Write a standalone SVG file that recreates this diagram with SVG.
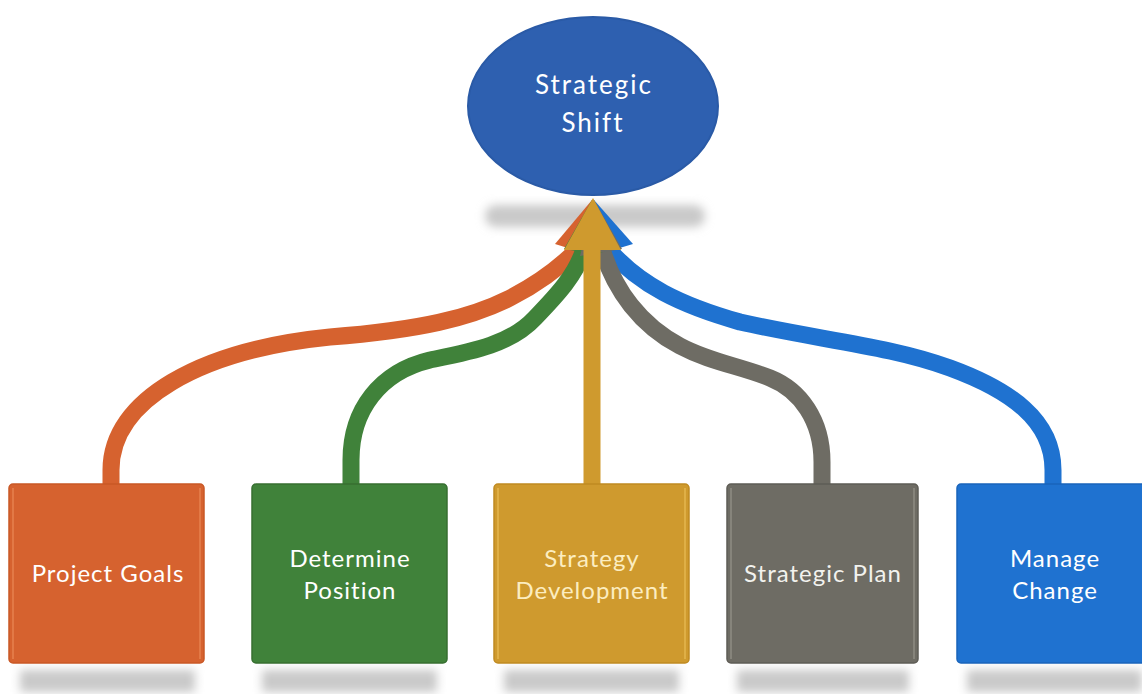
<svg xmlns="http://www.w3.org/2000/svg" width="1142" height="694" viewBox="0 0 1142 694">
  <defs>
    <filter id="soft" x="-20%" y="-100%" width="140%" height="300%">
      <feGaussianBlur stdDeviation="5"/>
    </filter>
    <style>
      .lbl { font-family: Lato, "Open Sans", "Liberation Sans", sans-serif; font-size: 24px; letter-spacing: 1px; text-anchor: middle; fill: #ffffff; }
      .big { font-size: 26px; letter-spacing: 2px; }
      .shadow { fill: #c9c9c9; filter: url(#soft); }
      .wire { fill: none; stroke-width: 17; stroke-linecap: butt; }
      .box { stroke-width: 1.5; }
      .edge { fill: none; stroke-width: 1.5; stroke-opacity: 0.55; }
    </style>
  </defs>

  <rect width="1142" height="694" fill="#ffffff"/>

  <!-- soft reflections under the shapes -->
  <g id="shadows">
    <rect class="shadow" x="485" y="205" width="220" height="22" rx="11"/>
    <rect class="shadow" x="20" y="670" width="175" height="22"/>
    <rect class="shadow" x="262" y="670" width="175" height="22"/>
    <rect class="shadow" x="504" y="670" width="175" height="22"/>
    <rect class="shadow" x="737" y="670" width="172" height="22"/>
    <rect class="shadow" x="967" y="670" width="175" height="22"/>
  </g>

  <!-- curved connectors converging on the top node -->
  <g id="connectors">
    <path class="wire" stroke="#D6622F" d="M111,484 L111,470 C111,400 200,350 330,337 C420,330 470,318 510,298 C545,280 565,262 577,250"/>
    <polygon fill="#D6622F" points="592,200 555,244 600,258"/>

    <path class="wire" stroke="#1F72D0" d="M1053,484 L1053,470 C1053,420 1010,390 950,368 C890,346 820,340 740,322 C680,305 640,285 610,251"/>
    <polygon fill="#1F72D0" points="594,200 633,244 586,258"/>

    <path class="wire" stroke="#40823A" d="M351,484 L351,460 C351,410 380,372 430,360 C470,352 510,345 535,318 C560,292 575,275 583,252"/>
    <polygon fill="#40823A" points="592,200 564,249 606,256"/>

    <path class="wire" stroke="#6E6C64" d="M822,484 L822,462 C822,420 800,390 770,378 C740,366 710,362 680,346 C640,325 615,290 603,252"/>
    <polygon fill="#6E6C64" points="594,200 622,249 580,256"/>

    <path class="wire" stroke="#CF9A2E" stroke-width="20" d="M592,484 L592,246"/>
    <polygon fill="#CF9A2E" points="593,198 564,250 621,250"/>
  </g>

  <!-- top node -->
  <g id="strategic-shift">
    <ellipse cx="593" cy="106" rx="125" ry="89" fill="#2E60B0" stroke="#2A5AA6" stroke-width="2"/>
    <text class="lbl big" x="594" y="94">Strategic</text>
    <text class="lbl big" x="593" y="132">Shift</text>
  </g>

  <!-- step boxes -->
  <g id="project-goals">
    <rect class="box" x="9" y="484" width="195" height="179" rx="4" fill="#D6622F" stroke="#C95826"/>
    <path class="edge" stroke="#F39A6A" d="M13,488 V659 M200,488 V659"/>
    <text class="lbl" x="108" y="582">Project Goals</text>
  </g>

  <g id="determine-position">
    <rect class="box" x="252" y="484" width="195" height="179" rx="4" fill="#40823A" stroke="#376F31"/>
    <text class="lbl" x="350" y="567">Determine</text>
    <text class="lbl" x="350" y="599">Position</text>
  </g>

  <g id="strategy-development">
    <rect class="box" x="494" y="484" width="195" height="179" rx="4" fill="#CF9A2E" stroke="#C08B22"/>
    <path class="edge" stroke="#F5CE6A" d="M498,488 V659 M685,488 V659"/>
    <text class="lbl" x="592" y="567" style="fill:#FCEDC0">Strategy</text>
    <text class="lbl" x="592" y="599" style="fill:#FCEDC0">Development</text>
  </g>

  <g id="strategic-plan">
    <rect class="box" x="727" y="484" width="191" height="179" rx="4" fill="#6E6C64" stroke="#5E5C55"/>
    <path class="edge" stroke="#A9A79F" d="M731,488 V659 M914,488 V659"/>
    <text class="lbl" x="823" y="582" style="fill:#F2F2EE">Strategic Plan</text>
  </g>

  <g id="manage-change">
    <rect class="box" x="957" y="484" width="195" height="179" rx="4" fill="#1F72D0" stroke="#1A64BA"/>
    <text class="lbl" x="1055" y="567">Manage</text>
    <text class="lbl" x="1055" y="599">Change</text>
  </g>
</svg>
